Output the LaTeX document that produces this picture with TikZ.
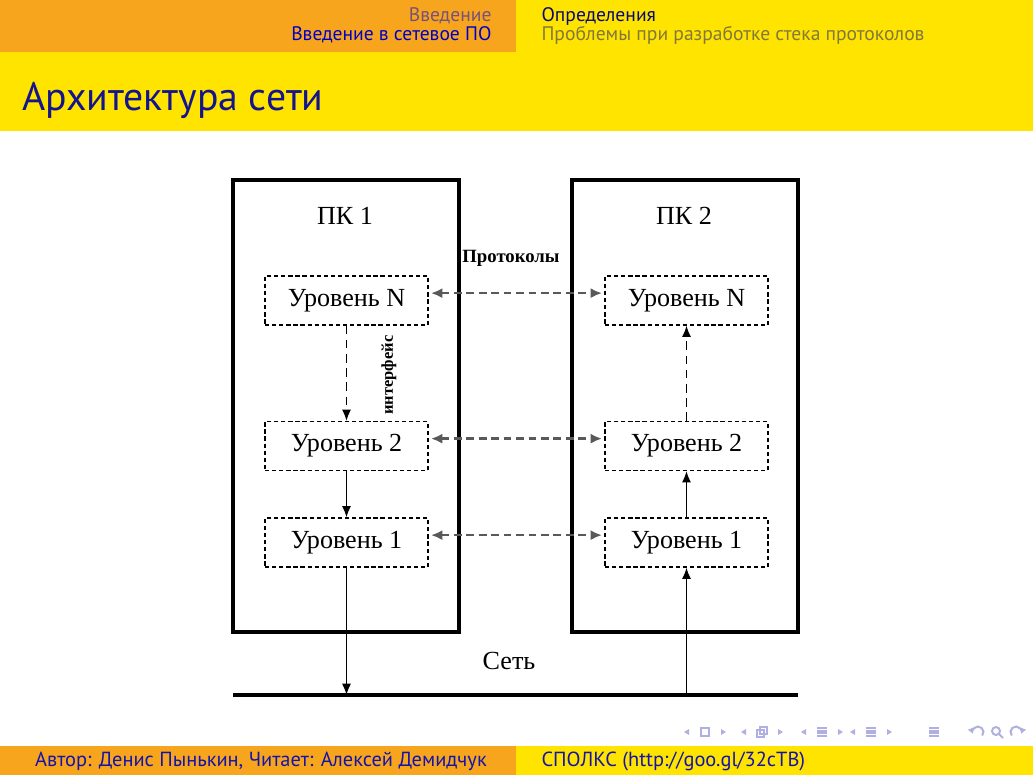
\documentclass[tikz,border=0pt]{standalone}
\usepackage{fontspec}
\setmainfont{Liberation Serif}
\newfontfamily\slidefont{PT Sans}
\usetikzlibrary{arrows.meta}

\definecolor{hdorange}{RGB}{248,165,30}
\definecolor{hdyellow}{RGB}{255,228,0}
\definecolor{titleblue}{RGB}{20,20,140}
\definecolor{activeblue}{RGB}{0,0,200}
\definecolor{dimpurple}{RGB}{120,80,120}
\definecolor{darknavy}{RGB}{10,10,110}
\definecolor{dimolive}{RGB}{130,120,60}
\definecolor{footblue}{RGB}{20,20,170}
\definecolor{navsym}{RGB}{175,175,225}

\tikzset{
  pcbox/.style={draw, line width=1.1pt, minimum width=2.80cm, minimum height=5.60cm},
  lvbox/.style={draw, line width=0.45pt, dash pattern=on 1.5pt off 1pt,
    minimum width=2.02cm, minimum height=0.607cm, font=\fontsize{9.2}{11}\selectfont},
  proto/.style={{Latex[length=4pt,width=3.5pt]}-{Latex[length=4pt,width=3.5pt]},
    draw=black!65, line width=0.9pt, dash pattern=on 2.8pt off 1.6pt,
    shorten <=0.8pt, shorten >=0.8pt},
  down/.style={-{Latex[length=4pt,width=3.2pt]}, line width=0.5pt},
  hdtext/.style={inner sep=0pt, font=\slidefont\fontsize{6.9}{8}\selectfont},
  fttext/.style={inner sep=0pt, font=\slidefont\fontsize{7.2}{8}\selectfont, text=footblue},
  navline/.style={navsym, line width=0.7pt}
}

\begin{document}
\begin{tikzpicture}[x=0.012391cm, y=-0.012391cm]
  \useasboundingbox (0,0) rectangle (1033,775);

  % header, title and footer bars
  \fill[hdorange] (0,0) rectangle (516,52);
  \fill[hdyellow] (516,0) rectangle (1033,52);
  \fill[hdyellow] (0,52) rectangle (1033,131);
  \fill[hdorange] (0,746) rectangle (516,775);
  \fill[hdyellow] (516,746) rectangle (1033,775);

  \node (sec) [hdtext, anchor=base east, text=dimpurple] at (492,21) {Введение};
  \node (sub) [hdtext, anchor=base east, text=activeblue] at (492,40) {Введение в сетевое ПО};
  \node (def) [hdtext, anchor=base west, text=darknavy] at (541,21) {Определения};
  \node (prb) [hdtext, anchor=base west, text=dimolive] at (541,40) {Проблемы при разработке стека протоколов};
  \node (ttl) [inner sep=0pt, anchor=base west, text=titleblue, font=\slidefont\fontsize{14}{16}\selectfont] at (22,110) {Архитектура сети};
  \node (aut) [fttext, anchor=base] at (261,766) {Автор: Денис Пынькин, Читает: Алексей Демидчук};
  \node (crs) [fttext, anchor=base west] at (541,766) {СПОЛКС (http://goo.gl/32cTB)};

  % two computers
  \node (PC1) [pcbox] at (346,406) {};
  \node (PC2) [pcbox] at (685,406) {};
  \node (T1) [font=\fontsize{9.2}{11}\selectfont] at (345,216) {ПК 1};
  \node (T2) [font=\fontsize{9.2}{11}\selectfont] at (684,216) {ПК 2};

  \node (L1N) [lvbox] at (346.5,300.5) {Уровень N};
  \node (L12) [lvbox] at (346.5,446) {Уровень 2};
  \node (L11) [lvbox] at (346.5,542.5) {Уровень 1};
  \node (R1N) [lvbox] at (686.5,300.5) {Уровень N};
  \node (R12) [lvbox] at (686.5,446) {Уровень 2};
  \node (R11) [lvbox] at (686.5,542.5) {Уровень 1};

  \node (prt) [font=\bfseries\fontsize{6.6}{8}\selectfont] at (511,258) {Протоколы};
  \node (ifc) [rotate=90, font=\bfseries\fontsize{5.8}{7}\selectfont] at (389,375) {интерфейс};
  \node (net) [font=\fontsize{9.2}{11}\selectfont] at (509,661) {Сеть};

  % protocol links
  \draw[proto] ([yshift=2.6pt]L1N.east) -- ([yshift=2.6pt]R1N.west);
  \draw[proto] ([yshift=2.6pt]L12.east) -- ([yshift=2.6pt]R12.west);
  \draw[proto] ([yshift=2.6pt]L11.east) -- ([yshift=2.6pt]R11.west);

  % network line
  \coordinate (netA) at (233,695);
  \coordinate (netB) at (798,695);
  \draw[line width=1.1pt] (netA) -- (netB);

  % down the left stack, up the right one
  \draw[down, dash pattern=on 3pt off 2pt] (L1N.south) -- (L12.north);
  \draw[down] (L12.south) -- (L11.north);
  \draw[down] (L11.south) -- (L11.south |- netA);
  \draw[down] (R11.south |- netA) -- (R11.south);
  \draw[down] (R11.north) -- (R12.south);
  \draw[down, dash pattern=on 3pt off 2pt] (R12.north) -- (R1N.south);

  % navigation symbols
  \foreach \c in {705,762,822,871} {
    \fill[navsym] (\c-21,732) -- (\c-16,729) -- (\c-16,735) -- cycle;
    \fill[navsym] (\c+21,732) -- (\c+16,729) -- (\c+16,735) -- cycle;
  }
  \draw[navsym, line width=0.5pt] (701,728) rectangle (709,736);
  \draw[navsym, line width=0.5pt] (757,730) rectangle (764,737) (760,727) rectangle (767,734);
  \foreach \c in {822,871,934}
    \foreach \dy in {-4,-1.3,1.3,4}
      \draw[navline] (\c-5,732+\dy) -- (\c+5,732+\dy);
  \draw[navline, -{Latex[length=2pt,width=2.5pt]}] (978,732) ++(40:5.5) arc (40:-200:5.5);
  \draw[navline] (996,731) circle (4) (999,734) -- (1003,738);
  \draw[navline, -{Latex[length=2pt,width=2.5pt]}] (1016,732) ++(140:5.5) arc (140:380:5.5);
\end{tikzpicture}
\end{document}
